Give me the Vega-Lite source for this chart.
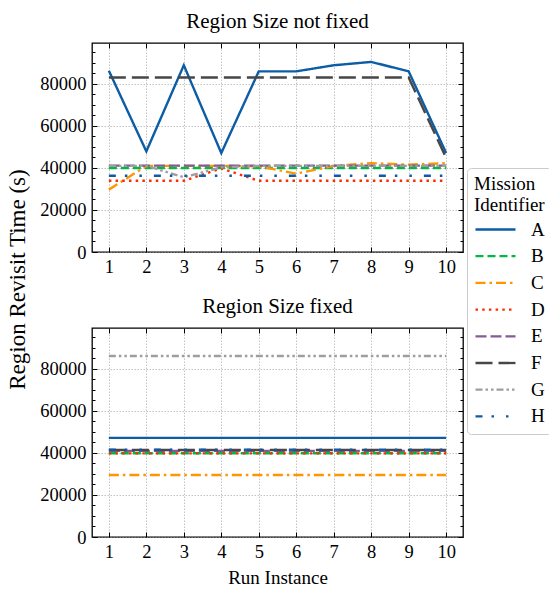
{
  "$schema": "https://vega.github.io/schema/vega-lite/v6.json",
  "padding": {"left": 5, "top": 9, "right": 5, "bottom": 5},
  "bounds": "flush",
  "spacing": 76,
  "config": {
    "font": "Liberation Serif",
    "view": {"stroke": "black", "strokeWidth": 1.3},
    "style": {"guide-label": {"font": "Liberation Serif"}, "guide-title": {"font": "Liberation Serif"}, "group-title": {"font": "Liberation Serif"}},
    "axis": {"labelFont": "Liberation Serif", "titleFont": "Liberation Serif", "labelFontSize": 18.5, "titleFontSize": 19, "titleFontWeight": "normal", "labelColor": "black", "titleColor": "black", "domainColor": "black", "tickColor": "black", "tickWidth": 1, "gridColor": "#9a9a9a", "gridDash": [1.5, 1.5], "gridWidth": 0.6},
    "title": {"font": "Liberation Serif", "fontSize": 21, "fontWeight": "normal", "color": "black", "offset": 11},
    "legend": {"titleFont": "Liberation Serif", "labelFont": "Liberation Serif", "titleFontSize": 19, "labelFontSize": 19, "titleFontWeight": "normal", "titleColor": "black", "labelColor": "black", "strokeColor": "#cccccc", "fillColor": "white", "cornerRadius": 4, "padding": 7, "symbolType": "M-1,0H3", "symbolSize": 400, "symbolStrokeWidth": 2.3, "labelOffset": 34, "rowPadding": 4.7, "titleLineHeight": 21, "titlePadding": 3}
  },
  "datasets": {
    "d": [
      {"panel": "not fixed", "mission": "A", "run": 1, "time": 86300}, {"panel": "not fixed", "mission": "A", "run": 2, "time": 47900}, {"panel": "not fixed", "mission": "A", "run": 3, "time": 88900}, {"panel": "not fixed", "mission": "A", "run": 4, "time": 47100}, {"panel": "not fixed", "mission": "A", "run": 5, "time": 86000}, {"panel": "not fixed", "mission": "A", "run": 6, "time": 86000}, {"panel": "not fixed", "mission": "A", "run": 7, "time": 88900}, {"panel": "not fixed", "mission": "A", "run": 8, "time": 90500}, {"panel": "not fixed", "mission": "A", "run": 9, "time": 86000}, {"panel": "not fixed", "mission": "A", "run": 10, "time": 47100},
      {"panel": "not fixed", "mission": "B", "run": 1, "time": 40000}, {"panel": "not fixed", "mission": "B", "run": 2, "time": 40000}, {"panel": "not fixed", "mission": "B", "run": 3, "time": 40000}, {"panel": "not fixed", "mission": "B", "run": 4, "time": 40000}, {"panel": "not fixed", "mission": "B", "run": 5, "time": 40000}, {"panel": "not fixed", "mission": "B", "run": 6, "time": 40000}, {"panel": "not fixed", "mission": "B", "run": 7, "time": 40000}, {"panel": "not fixed", "mission": "B", "run": 8, "time": 40000}, {"panel": "not fixed", "mission": "B", "run": 9, "time": 40000}, {"panel": "not fixed", "mission": "B", "run": 10, "time": 40000},
      {"panel": "not fixed", "mission": "C", "run": 1, "time": 29700}, {"panel": "not fixed", "mission": "C", "run": 2, "time": 41000}, {"panel": "not fixed", "mission": "C", "run": 3, "time": 41000}, {"panel": "not fixed", "mission": "C", "run": 4, "time": 41000}, {"panel": "not fixed", "mission": "C", "run": 5, "time": 40800}, {"panel": "not fixed", "mission": "C", "run": 6, "time": 37300}, {"panel": "not fixed", "mission": "C", "run": 7, "time": 41000}, {"panel": "not fixed", "mission": "C", "run": 8, "time": 42300}, {"panel": "not fixed", "mission": "C", "run": 9, "time": 41600}, {"panel": "not fixed", "mission": "C", "run": 10, "time": 42300},
      {"panel": "not fixed", "mission": "D", "run": 1, "time": 33900}, {"panel": "not fixed", "mission": "D", "run": 2, "time": 33900}, {"panel": "not fixed", "mission": "D", "run": 3, "time": 33900}, {"panel": "not fixed", "mission": "D", "run": 4, "time": 39800}, {"panel": "not fixed", "mission": "D", "run": 5, "time": 33900}, {"panel": "not fixed", "mission": "D", "run": 6, "time": 33900}, {"panel": "not fixed", "mission": "D", "run": 7, "time": 33900}, {"panel": "not fixed", "mission": "D", "run": 8, "time": 33900}, {"panel": "not fixed", "mission": "D", "run": 9, "time": 33900}, {"panel": "not fixed", "mission": "D", "run": 10, "time": 33900},
      {"panel": "not fixed", "mission": "E", "run": 1, "time": 41100}, {"panel": "not fixed", "mission": "E", "run": 2, "time": 41100}, {"panel": "not fixed", "mission": "E", "run": 3, "time": 41100}, {"panel": "not fixed", "mission": "E", "run": 4, "time": 41100}, {"panel": "not fixed", "mission": "E", "run": 5, "time": 41100}, {"panel": "not fixed", "mission": "E", "run": 6, "time": 41100}, {"panel": "not fixed", "mission": "E", "run": 7, "time": 41100}, {"panel": "not fixed", "mission": "E", "run": 8, "time": 41100}, {"panel": "not fixed", "mission": "E", "run": 9, "time": 41100}, {"panel": "not fixed", "mission": "E", "run": 10, "time": 41100},
      {"panel": "not fixed", "mission": "F", "run": 1, "time": 83100}, {"panel": "not fixed", "mission": "F", "run": 2, "time": 83100}, {"panel": "not fixed", "mission": "F", "run": 3, "time": 83100}, {"panel": "not fixed", "mission": "F", "run": 4, "time": 83100}, {"panel": "not fixed", "mission": "F", "run": 5, "time": 83100}, {"panel": "not fixed", "mission": "F", "run": 6, "time": 83100}, {"panel": "not fixed", "mission": "F", "run": 7, "time": 83100}, {"panel": "not fixed", "mission": "F", "run": 8, "time": 83100}, {"panel": "not fixed", "mission": "F", "run": 9, "time": 83100}, {"panel": "not fixed", "mission": "F", "run": 10, "time": 44800},
      {"panel": "not fixed", "mission": "G", "run": 1, "time": 41000}, {"panel": "not fixed", "mission": "G", "run": 2, "time": 41000}, {"panel": "not fixed", "mission": "G", "run": 3, "time": 35600}, {"panel": "not fixed", "mission": "G", "run": 4, "time": 40300}, {"panel": "not fixed", "mission": "G", "run": 5, "time": 41000}, {"panel": "not fixed", "mission": "G", "run": 6, "time": 41000}, {"panel": "not fixed", "mission": "G", "run": 7, "time": 41000}, {"panel": "not fixed", "mission": "G", "run": 8, "time": 41000}, {"panel": "not fixed", "mission": "G", "run": 9, "time": 41000}, {"panel": "not fixed", "mission": "G", "run": 10, "time": 41000},
      {"panel": "not fixed", "mission": "H", "run": 1, "time": 36300}, {"panel": "not fixed", "mission": "H", "run": 2, "time": 36300}, {"panel": "not fixed", "mission": "H", "run": 3, "time": 36300}, {"panel": "not fixed", "mission": "H", "run": 4, "time": 36300}, {"panel": "not fixed", "mission": "H", "run": 5, "time": 36300}, {"panel": "not fixed", "mission": "H", "run": 6, "time": 36300}, {"panel": "not fixed", "mission": "H", "run": 7, "time": 36300}, {"panel": "not fixed", "mission": "H", "run": 8, "time": 36300}, {"panel": "not fixed", "mission": "H", "run": 9, "time": 36300}, {"panel": "not fixed", "mission": "H", "run": 10, "time": 36300},
      {"panel": "fixed", "mission": "A", "run": 1, "time": 47200}, {"panel": "fixed", "mission": "A", "run": 2, "time": 47200}, {"panel": "fixed", "mission": "A", "run": 3, "time": 47200}, {"panel": "fixed", "mission": "A", "run": 4, "time": 47200}, {"panel": "fixed", "mission": "A", "run": 5, "time": 47200}, {"panel": "fixed", "mission": "A", "run": 6, "time": 47200}, {"panel": "fixed", "mission": "A", "run": 7, "time": 47200}, {"panel": "fixed", "mission": "A", "run": 8, "time": 47200}, {"panel": "fixed", "mission": "A", "run": 9, "time": 47200}, {"panel": "fixed", "mission": "A", "run": 10, "time": 47200},
      {"panel": "fixed", "mission": "B", "run": 1, "time": 39900}, {"panel": "fixed", "mission": "B", "run": 2, "time": 39900}, {"panel": "fixed", "mission": "B", "run": 3, "time": 39900}, {"panel": "fixed", "mission": "B", "run": 4, "time": 39900}, {"panel": "fixed", "mission": "B", "run": 5, "time": 39900}, {"panel": "fixed", "mission": "B", "run": 6, "time": 39900}, {"panel": "fixed", "mission": "B", "run": 7, "time": 39900}, {"panel": "fixed", "mission": "B", "run": 8, "time": 39900}, {"panel": "fixed", "mission": "B", "run": 9, "time": 39900}, {"panel": "fixed", "mission": "B", "run": 10, "time": 39900},
      {"panel": "fixed", "mission": "C", "run": 1, "time": 29500}, {"panel": "fixed", "mission": "C", "run": 2, "time": 29500}, {"panel": "fixed", "mission": "C", "run": 3, "time": 29500}, {"panel": "fixed", "mission": "C", "run": 4, "time": 29500}, {"panel": "fixed", "mission": "C", "run": 5, "time": 29500}, {"panel": "fixed", "mission": "C", "run": 6, "time": 29500}, {"panel": "fixed", "mission": "C", "run": 7, "time": 29500}, {"panel": "fixed", "mission": "C", "run": 8, "time": 29500}, {"panel": "fixed", "mission": "C", "run": 9, "time": 29500}, {"panel": "fixed", "mission": "C", "run": 10, "time": 29500},
      {"panel": "fixed", "mission": "D", "run": 1, "time": 39800}, {"panel": "fixed", "mission": "D", "run": 2, "time": 39800}, {"panel": "fixed", "mission": "D", "run": 3, "time": 39800}, {"panel": "fixed", "mission": "D", "run": 4, "time": 39800}, {"panel": "fixed", "mission": "D", "run": 5, "time": 39800}, {"panel": "fixed", "mission": "D", "run": 6, "time": 39800}, {"panel": "fixed", "mission": "D", "run": 7, "time": 39800}, {"panel": "fixed", "mission": "D", "run": 8, "time": 39800}, {"panel": "fixed", "mission": "D", "run": 9, "time": 39800}, {"panel": "fixed", "mission": "D", "run": 10, "time": 39800},
      {"panel": "fixed", "mission": "E", "run": 1, "time": 41000}, {"panel": "fixed", "mission": "E", "run": 2, "time": 41000}, {"panel": "fixed", "mission": "E", "run": 3, "time": 41000}, {"panel": "fixed", "mission": "E", "run": 4, "time": 41000}, {"panel": "fixed", "mission": "E", "run": 5, "time": 41000}, {"panel": "fixed", "mission": "E", "run": 6, "time": 41000}, {"panel": "fixed", "mission": "E", "run": 7, "time": 41000}, {"panel": "fixed", "mission": "E", "run": 8, "time": 41000}, {"panel": "fixed", "mission": "E", "run": 9, "time": 41000}, {"panel": "fixed", "mission": "E", "run": 10, "time": 41000},
      {"panel": "fixed", "mission": "F", "run": 1, "time": 41400}, {"panel": "fixed", "mission": "F", "run": 2, "time": 41400}, {"panel": "fixed", "mission": "F", "run": 3, "time": 41400}, {"panel": "fixed", "mission": "F", "run": 4, "time": 41400}, {"panel": "fixed", "mission": "F", "run": 5, "time": 41400}, {"panel": "fixed", "mission": "F", "run": 6, "time": 41400}, {"panel": "fixed", "mission": "F", "run": 7, "time": 41400}, {"panel": "fixed", "mission": "F", "run": 8, "time": 41400}, {"panel": "fixed", "mission": "F", "run": 9, "time": 41400}, {"panel": "fixed", "mission": "F", "run": 10, "time": 41400},
      {"panel": "fixed", "mission": "G", "run": 1, "time": 86200}, {"panel": "fixed", "mission": "G", "run": 2, "time": 86200}, {"panel": "fixed", "mission": "G", "run": 3, "time": 86200}, {"panel": "fixed", "mission": "G", "run": 4, "time": 86200}, {"panel": "fixed", "mission": "G", "run": 5, "time": 86200}, {"panel": "fixed", "mission": "G", "run": 6, "time": 86200}, {"panel": "fixed", "mission": "G", "run": 7, "time": 86200}, {"panel": "fixed", "mission": "G", "run": 8, "time": 86200}, {"panel": "fixed", "mission": "G", "run": 9, "time": 86200}, {"panel": "fixed", "mission": "G", "run": 10, "time": 86200},
      {"panel": "fixed", "mission": "H", "run": 1, "time": 41600}, {"panel": "fixed", "mission": "H", "run": 2, "time": 41600}, {"panel": "fixed", "mission": "H", "run": 3, "time": 41600}, {"panel": "fixed", "mission": "H", "run": 4, "time": 41600}, {"panel": "fixed", "mission": "H", "run": 5, "time": 41600}, {"panel": "fixed", "mission": "H", "run": 6, "time": 41600}, {"panel": "fixed", "mission": "H", "run": 7, "time": 41600}, {"panel": "fixed", "mission": "H", "run": 8, "time": 41600}, {"panel": "fixed", "mission": "H", "run": 9, "time": 41600}, {"panel": "fixed", "mission": "H", "run": 10, "time": 41600}
    ]
  },
  "data": {"name": "d"},
  "vconcat": [
    {
      "title": {"text": "Region Size not fixed"},
      "width": 371, "height": 209,
      "transform": [{"filter": "datum.panel === 'not fixed'"}],
      "layer": [
        {"mark": {"type": "line", "strokeWidth": 2.4},
         "encoding": {
           "x": {"field": "run", "type": "quantitative", "scale": {"domain": [0.55, 10.45], "nice": false, "zero": false}, "axis": {"values": [1,2,3,4,5,6,7,8,9,10], "ticks": false, "domain": false, "grid": true, "labelPadding": 5, "labelFlush": false, "labelFont": "Liberation Serif", "title": null}},
           "y": {"field": "time", "type": "quantitative", "scale": {"domain": [0, 99500], "nice": false}, "axis": {"values": [0,20000,40000,60000,80000], "format": "d", "ticks": false, "domain": false, "grid": true, "labelPadding": 6, "labelFont": "Liberation Serif", "titleFont": "Liberation Serif", "titleFontSize": 23, "title": "Region Revisit Time (s)", "titleY": 236, "titleX": -68, "titleBaseline": "alphabetic"}},
           "color": {"field": "mission", "type": "nominal", "scale": {"domain": ["A","B","C","D","E","F","G","H"], "range": ["#0C5DA5","#00B945","#FF9500","#FF2C00","#845B97","#474747","#9e9e9e","#0C5DA5"]}, "legend": {"title": ["Mission","Identifier"], "orient": "none", "legendX": 375, "legendY": 125}},
           "strokeDash": {"field": "mission", "type": "nominal", "scale": {"domain": ["A","B","C","D","E","F","G","H"], "range": [[1,0],[8,4],[10,4,2.5,4],[2.5,4.2],[11,4],[17,6],[7,3,2.5,3,2.5,3],[7,9,2.5,12,2.5,12]]}, "legend": {"title": ["Mission","Identifier"], "orient": "none", "legendX": 375, "legendY": 125}}
         }},
        {"mark": {"type": "point", "opacity": 0},
         "encoding": {
           "x": {"field": "run", "type": "quantitative", "axis": {"orient": "bottom", "values": [1,2,3,4,5,6,7,8,9,10], "labels": false, "grid": false, "domain": false, "tickSize": -5, "title": null}},
           "y": {"field": "time", "type": "quantitative", "axis": {"orient": "left", "values": [0,20000,40000,60000,80000], "labels": false, "grid": false, "domain": false, "tickSize": -5, "title": null}}
         }},
        {"mark": {"type": "point", "opacity": 0},
         "encoding": {
           "x": {"field": "run", "type": "quantitative", "axis": {"orient": "top", "values": [1,2,3,4,5,6,7,8,9,10], "labels": false, "grid": false, "domain": false, "tickSize": -5, "title": null}},
           "y": {"field": "time", "type": "quantitative", "axis": {"orient": "right", "values": [0,20000,40000,60000,80000], "labels": false, "grid": false, "domain": false, "tickSize": -5, "title": null}}
         }},
        {"mark": {"type": "point", "opacity": 0},
         "encoding": {
           "x": {"field": "run", "type": "quantitative", "axis": null},
           "y": {"field": "time", "type": "quantitative", "axis": {"orient": "left", "values": [5000,10000,15000,25000,30000,35000,45000,50000,55000,65000,70000,75000,85000,90000,95000], "labels": false, "grid": false, "domain": false, "tickSize": -3, "title": null}}
         }},
        {"mark": {"type": "point", "opacity": 0},
         "encoding": {
           "x": {"field": "run", "type": "quantitative", "axis": null},
           "y": {"field": "time", "type": "quantitative", "axis": {"orient": "right", "values": [5000,10000,15000,25000,30000,35000,45000,50000,55000,65000,70000,75000,85000,90000,95000], "labels": false, "grid": false, "domain": false, "tickSize": -3, "title": null}}
         }}
      ],
      "resolve": {"axis": {"x": "independent", "y": "independent"}}
    },
    {
      "title": {"text": "Region Size fixed"},
      "width": 371, "height": 209,
      "transform": [{"filter": "datum.panel === 'fixed'"}],
      "layer": [
        {"mark": {"type": "line", "strokeWidth": 2.4},
         "encoding": {
           "x": {"field": "run", "type": "quantitative", "scale": {"domain": [0.55, 10.45], "nice": false, "zero": false}, "axis": {"values": [1,2,3,4,5,6,7,8,9,10], "ticks": false, "domain": false, "grid": true, "labelPadding": 5, "labelFlush": false, "labelFont": "Liberation Serif", "titleFont": "Liberation Serif", "title": "Run Instance", "titlePadding": 8}},
           "y": {"field": "time", "type": "quantitative", "scale": {"domain": [0, 99500], "nice": false}, "axis": {"values": [0,20000,40000,60000,80000], "format": "d", "ticks": false, "domain": false, "grid": true, "labelPadding": 6, "labelFont": "Liberation Serif", "title": null}},
           "color": {"field": "mission", "type": "nominal", "scale": {"domain": ["A","B","C","D","E","F","G","H"], "range": ["#0C5DA5","#00B945","#FF9500","#FF2C00","#845B97","#474747","#9e9e9e","#0C5DA5"]}, "legend": {"title": ["Mission","Identifier"], "orient": "none", "legendX": 375, "legendY": 125}},
           "strokeDash": {"field": "mission", "type": "nominal", "scale": {"domain": ["A","B","C","D","E","F","G","H"], "range": [[1,0],[8,4],[10,4,2.5,4],[2.5,4.2],[11,4],[17,6],[7,3,2.5,3,2.5,3],[7,9,2.5,12,2.5,12]]}, "legend": {"title": ["Mission","Identifier"], "orient": "none", "legendX": 375, "legendY": 125}}
         }},
        {"mark": {"type": "point", "opacity": 0},
         "encoding": {
           "x": {"field": "run", "type": "quantitative", "axis": {"orient": "bottom", "values": [1,2,3,4,5,6,7,8,9,10], "labels": false, "grid": false, "domain": false, "tickSize": -5, "title": null}},
           "y": {"field": "time", "type": "quantitative", "axis": {"orient": "left", "values": [0,20000,40000,60000,80000], "labels": false, "grid": false, "domain": false, "tickSize": -5, "title": null}}
         }},
        {"mark": {"type": "point", "opacity": 0},
         "encoding": {
           "x": {"field": "run", "type": "quantitative", "axis": {"orient": "top", "values": [1,2,3,4,5,6,7,8,9,10], "labels": false, "grid": false, "domain": false, "tickSize": -5, "title": null}},
           "y": {"field": "time", "type": "quantitative", "axis": {"orient": "right", "values": [0,20000,40000,60000,80000], "labels": false, "grid": false, "domain": false, "tickSize": -5, "title": null}}
         }},
        {"mark": {"type": "point", "opacity": 0},
         "encoding": {
           "x": {"field": "run", "type": "quantitative", "axis": null},
           "y": {"field": "time", "type": "quantitative", "axis": {"orient": "left", "values": [5000,10000,15000,25000,30000,35000,45000,50000,55000,65000,70000,75000,85000,90000,95000], "labels": false, "grid": false, "domain": false, "tickSize": -3, "title": null}}
         }},
        {"mark": {"type": "point", "opacity": 0},
         "encoding": {
           "x": {"field": "run", "type": "quantitative", "axis": null},
           "y": {"field": "time", "type": "quantitative", "axis": {"orient": "right", "values": [5000,10000,15000,25000,30000,35000,45000,50000,55000,65000,70000,75000,85000,90000,95000], "labels": false, "grid": false, "domain": false, "tickSize": -3, "title": null}}
         }}
      ],
      "resolve": {"axis": {"x": "independent", "y": "independent"}}
    }
  ]
}
